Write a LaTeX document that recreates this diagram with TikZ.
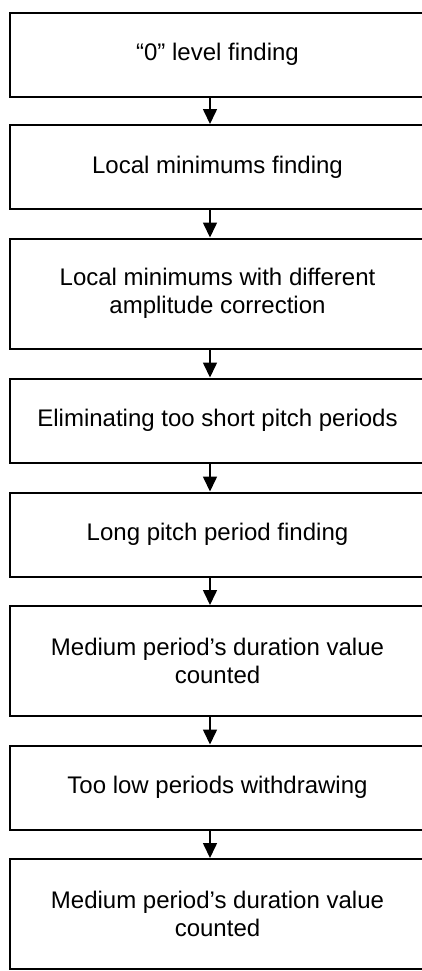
\documentclass[tikz,border=0pt]{standalone}
\usepackage{fontspec}
\setmainfont{Liberation Sans}
\usetikzlibrary{arrows.meta}
\begin{document}
\begin{tikzpicture}[x=0.5pt,y=-0.5pt]
	\useasboundingbox (0,0) rectangle (422,971);
	\clip (0,0) rectangle (422,971);
	\fill[white] (0,0) rectangle (422,971);
	\begin{scope}[line width=0.8pt,>={Triangle[width=7pt,length=7.5pt]}]
		\tikzstyle{every node}=[draw,shape=rectangle,line width=1pt,minimum width=207.5pt,minimum height=42pt,inner sep=0pt,align=center,font=\fontsize{12}{14}\selectfont];
		\tikzstyle{tall}=[minimum height=55pt];
		\path (217.5, 54.5) node (st1) {“0” level finding};
		\path (217.5,167  ) node (st2) {Local minimums finding};
		\path (217.5,293.5) node [tall] (st3) {Local minimums with different\\amplitude correction};
		\path (217.5,420.5) node (st4) {Eliminating too short pitch periods};
		\path (217.5,534.5) node (st5) {Long pitch period finding};
		\path (217.5,661  ) node [tall] (st6) {Medium period’s duration value\\counted};
		\path (217.5,787.5) node (st7) {Too low periods withdrawing};
		\path (217.5,914  ) node [tall] (st8) {Medium period’s duration value\\counted};
		\draw[->] ([xshift=-3.75pt]st1.south) -- ([xshift=-3.75pt]st2.north);
		\draw[->] ([xshift=-3.75pt]st2.south) -- ([xshift=-3.75pt]st3.north);
		\draw[->] ([xshift=-3.75pt]st3.south) -- ([xshift=-3.75pt]st4.north);
		\draw[->] ([xshift=-3.75pt]st4.south) -- ([xshift=-3.75pt]st5.north);
		\draw[->] ([xshift=-3.75pt]st5.south) -- ([xshift=-3.75pt]st6.north);
		\draw[->] ([xshift=-3.75pt]st6.south) -- ([xshift=-3.75pt]st7.north);
		\draw[->] ([xshift=-3.75pt]st7.south) -- ([xshift=-3.75pt]st8.north);
	\end{scope}
\end{tikzpicture}
\end{document}
